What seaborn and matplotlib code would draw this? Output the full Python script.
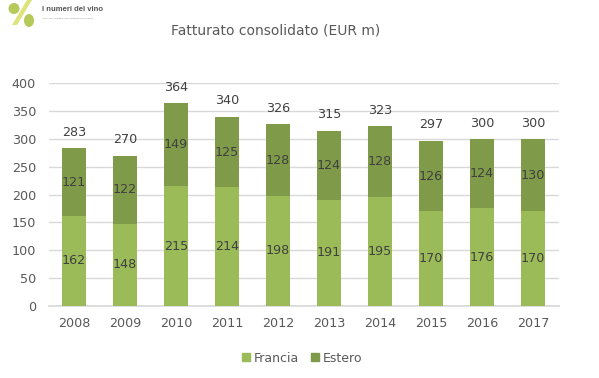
import matplotlib
matplotlib.use('Agg')
import matplotlib.pyplot as plt
import seaborn as sns
from matplotlib.patches import Ellipse, Polygon, Patch

# values
years = ['2008', '2009', '2010', '2011', '2012', '2013', '2014', '2015', '2016', '2017']
francia = [162, 148, 215, 214, 198, 191, 195, 170, 176, 170]
estero = [121, 122, 149, 125, 128, 124, 128, 126, 124, 130]
totale = [283, 270, 364, 340, 326, 315, 323, 297, 300, 300]
y_ticks = [0, 50, 100, 150, 200, 250, 300, 350, 400]

COL_FR = '#9bbb59'
COL_ES = '#7f9a48'
COL_TXT = '#595959'
COL_LAB = '#404040'

sns.set_theme(style='white')
plt.rcParams['font.family'] = ['DejaVu Sans']

W, H = 599, 378
fig = plt.figure(figsize=(W / 100, H / 100), dpi=100)
ax = fig.add_axes([48.5 / W, 1 - 306 / H, 510 / W, 222.7 / H])

sns.barplot(x=years, y=francia, color=COL_FR, width=0.47, saturation=1, linewidth=0, ax=ax, zorder=3)
sns.barplot(x=years, y=estero, bottom=francia, color=COL_ES, width=0.47, saturation=1, linewidth=0, ax=ax, zorder=3)

ax.set_ylim(0, 400)
ax.set_xlim(-0.5, 9.5)
ax.set_yticks(y_ticks)
ax.yaxis.grid(True, color='#d9d9d9', linewidth=1, zorder=0)
ax.set_axisbelow(True)
ax.tick_params(axis='both', length=0, labelsize=9.2, labelcolor=COL_TXT)
ax.tick_params(axis='x', pad=8)
ax.tick_params(axis='y', pad=9)
sns.despine(ax=ax, left=True, top=True, right=True)
ax.spines['bottom'].set_color('#d9d9d9')

# data labels
for i, yr in enumerate(years):
    ax.text(i, francia[i] / 2, str(francia[i]), ha='center', va='center', fontsize=9.2, color=COL_LAB, zorder=5)
    ax.text(i, francia[i] + estero[i] / 2, str(estero[i]), ha='center', va='center', fontsize=9.2, color=COL_LAB, zorder=5)
    ax.text(i, totale[i] + 17, str(totale[i]), ha='center', va='bottom', fontsize=9.2, color=COL_LAB, zorder=5)

fig.text(276 / W, 1 - 31 / H, 'Fatturato consolidato (EUR m)', ha='center', va='center',
         fontsize=10, color=COL_TXT)

handles = [Patch(color=COL_FR, label='Francia'), Patch(color=COL_ES, label='Estero')]
fig.legend(handles=handles, loc='center', bbox_to_anchor=(302 / W, 1 - 358 / H), ncol=2, frameon=False,
           fontsize=9, labelcolor=COL_TXT, handlelength=0.65, handleheight=0.65,
           handletextpad=0.35, columnspacing=0.9)

# small logo, top left
logo = fig.add_axes([0, 1 - 30 / H, 97 / W, 30 / H])
logo.set_xlim(0, 97)
logo.set_ylim(30, 0)
logo.axis('off')
logo.add_patch(Polygon([[27, 0], [32, 0], [17, 25], [12, 25]], color='#dbe37a', linewidth=0))
logo.add_patch(Ellipse((14, 8.5), 11, 11, color='#b5c95a', linewidth=0))
logo.add_patch(Ellipse((29, 20.5), 10, 13, color='#b5c95a', linewidth=0))
logo.text(42, 9.5, 'I numeri del vino', fontsize=5.5, color='#555555', va='center', fontweight='bold',
          family='Liberation Sans')
logo.text(42, 18, 'Statistiche, produttori, dati di mercato e di consumo', fontsize=1.6, color='#888888',
          va='center', family='Liberation Sans')

fig.savefig('out.png', dpi=100)
